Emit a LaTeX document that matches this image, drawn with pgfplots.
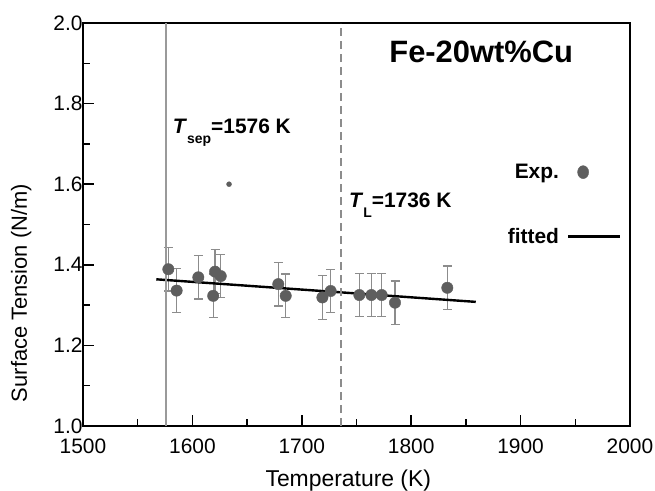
\documentclass[border=0pt]{standalone}
\usepackage{fontspec}
\setmainfont{Liberation Sans}
\usepackage{pgfplots}
\usepackage{pgfplotstable}
\pgfplotsset{compat=1.18}
\definecolor{pt}{HTML}{5E5E5E}
\definecolor{eb}{HTML}{8C8C8C}
\definecolor{vl}{HTML}{9A9A9A}
\pgfplotstableread{
T ST e
1578 1.389 0.054
1585.6 1.336 0.054
1605.4 1.369 0.054
1619 1.323 0.054
1620.7 1.383 0.054
1625.9 1.372 0.054
1678.5 1.352 0.054
1685.3 1.323 0.054
1718.8 1.319 0.054
1726.4 1.335 0.054
1752.6 1.325 0.054
1763.6 1.325 0.054
1773 1.325 0.054
1785.2 1.306 0.054
1833 1.343 0.054
}\expdata
\begin{document}
\begin{tikzpicture}
\begin{axis}[
 scale only axis, width=547bp, height=403bp,
 xmin=1500,xmax=2000,ymin=1,ymax=2,
 xtick={1500,1600,1700,1800,1900,2000}, ytick={1.0,1.2,1.4,1.6,1.8,2.0},
 minor x tick num=1, minor y tick num=1,
 tick align=inside, xtick pos=bottom, ytick pos=left,
 major tick length=11bp, minor tick length=7bp,
 tick style={line width=1.5bp, black},
 axis line style={line width=1.8bp},
 /pgf/number format/assume math mode=true,
 yticklabel style={/pgf/number format/fixed, /pgf/number format/fixed zerofill, /pgf/number format/precision=1, xshift=3bp},
 xticklabel style={/pgf/number format/1000 sep={}, yshift=-9bp},
 ticklabel style={font=\fontsize{21}{21}\selectfont},
 xlabel={Temperature (K)}, ylabel={Surface Tension (N/m)},
 xlabel style={at={(axis description cs:0.485,-0.151)}, anchor=base, font=\fontsize{23}{23}\selectfont},
 ylabel style={at={(axis description cs:-0.113,0.33)}, anchor=center, font=\fontsize{22}{22}\selectfont},
 legend style={draw=none, fill=none, at={(rel axis cs:0.99,0.66)}, anchor=north east, font=\bfseries\fontsize{21}{21}\selectfont, row sep=44bp, column sep=6bp},
 legend plot pos=right, legend cell align=right,
 clip=false,
]
\addplot[only marks, mark=*, mark size=5.7bp, mark options={fill=pt, draw=pt},
  legend image code/.code={\draw[pt] plot[mark=*, mark size=6.5bp, mark options={fill=pt, draw=pt, xscale=0.85}] coordinates {(15bp,0bp)};},
  error bars/.cd, y dir=both, y explicit,
  error bar style={eb, line width=1.2bp},
  error mark options={eb, line width=1.2bp, mark size=4.5bp, rotate=90}]
  table[x=T, y=ST, y error=e]{\expdata};
\addlegendentry{Exp.}
\addplot[black, line width=2.4bp,
  legend image code/.code={\draw[black, line width=2.4bp] (0bp,0bp) -- (52bp,0bp);}]
  coordinates {(1567,1.364) (1859,1.308)};
\addlegendentry{fitted}
\addplot[vl, line width=1.5bp, forget plot] coordinates {(1576,1) (1576,2)};
\addplot[eb, line width=1.5bp, dash pattern=on 8bp off 5bp, forget plot] coordinates {(1736,1) (1736,2)};
\addplot[only marks, mark=*, mark size=2.5bp, mark options={fill=pt, draw=pt}, forget plot] coordinates {(1633.5,1.600)};
\node[font=\bfseries\fontsize{31}{31}\selectfont] at (axis cs:1864,1.928) {Fe-20wt\%Cu};
\node[anchor=base west, inner sep=0pt, font=\bfseries\fontsize{21}{21}\selectfont] at (axis cs:1582,1.727) {\textit{T}\raisebox{-10bp}{\fontsize{14}{14}\selectfont sep}=1576 K};
\node[anchor=base west, inner sep=0pt, font=\bfseries\fontsize{21}{21}\selectfont] at (axis cs:1743,1.541) {\textit{T}\raisebox{-10bp}{\fontsize{14}{14}\selectfont L}=1736 K};
\coordinate (SW) at (rel axis cs:0,0);
\coordinate (NE) at (rel axis cs:1,1);
\end{axis}
\pgfresetboundingbox
\path ([shift={(-83bp,-65bp)}]SW) rectangle ([shift={(25bp,23bp)}]NE);
\end{tikzpicture}
\end{document}
